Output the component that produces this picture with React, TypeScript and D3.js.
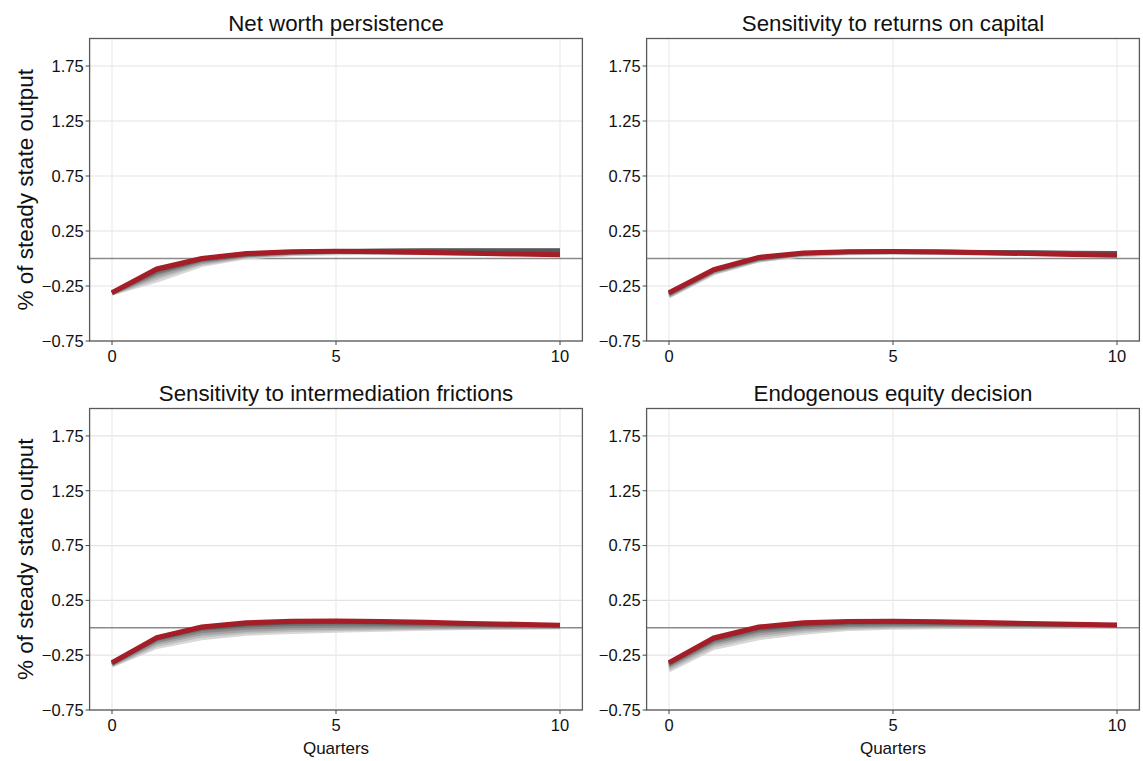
import React from 'react';
import * as d3 from 'd3';

// horizon (quarters)
const quarters = [0, 1, 2, 3, 4, 5, 6, 7, 8, 9, 10];
const yTicks = [-0.75, -0.25, 0.25, 0.75, 1.25, 1.75];
const xTicks = [0, 5, 10];
const titles = [
  'Net worth persistence',
  'Sensitivity to returns on capital',
  'Sensitivity to intermediation frictions',
  'Endogenous equity decision',
];

// gray fan, light -> dark, then the red baseline on top
const netWorthGrays = [
  [-0.32, -0.2, -0.06, 0.01, 0.038, 0.048, 0.05, 0.047, 0.043, 0.04, 0.037],
  [-0.32, -0.175, -0.045, 0.018, 0.044, 0.054, 0.055, 0.053, 0.05, 0.048, 0.046],
  [-0.315, -0.155, -0.035, 0.024, 0.049, 0.058, 0.06, 0.059, 0.057, 0.055, 0.054],
  [-0.315, -0.135, -0.022, 0.03, 0.053, 0.062, 0.065, 0.065, 0.064, 0.063, 0.062],
  [-0.31, -0.12, -0.012, 0.035, 0.056, 0.065, 0.069, 0.07, 0.07, 0.07, 0.07],
  [-0.31, -0.105, -0.005, 0.04, 0.06, 0.068, 0.073, 0.075, 0.076, 0.076, 0.076],
];
const netWorthRed = [-0.31, -0.095, 0.0, 0.045, 0.062, 0.065, 0.062, 0.055, 0.048, 0.04, 0.033];

const returnsGrays = [
  [-0.345, -0.135, -0.02, 0.03, 0.048, 0.052, 0.05, 0.046, 0.041, 0.036, 0.032],
  [-0.34, -0.128, -0.015, 0.035, 0.052, 0.055, 0.053, 0.05, 0.045, 0.04, 0.036],
  [-0.333, -0.12, -0.01, 0.04, 0.055, 0.058, 0.056, 0.053, 0.048, 0.044, 0.04],
  [-0.326, -0.115, -0.005, 0.043, 0.058, 0.06, 0.059, 0.056, 0.052, 0.048, 0.044],
  [-0.32, -0.11, 0.0, 0.046, 0.06, 0.062, 0.061, 0.058, 0.055, 0.051, 0.047],
  [-0.315, -0.105, 0.005, 0.048, 0.062, 0.064, 0.063, 0.06, 0.057, 0.053, 0.05],
];
const returnsRed = [-0.31, -0.1, 0.01, 0.05, 0.062, 0.063, 0.058, 0.052, 0.045, 0.037, 0.03];

const frictionsGrays = [
  [-0.345, -0.175, -0.095, -0.055, -0.038, -0.027, -0.017, -0.009, -0.003, 0.0, 0.003],
  [-0.34, -0.155, -0.073, -0.037, -0.021, -0.013, -0.006, 0.0, 0.003, 0.005, 0.007],
  [-0.335, -0.135, -0.052, -0.02, -0.005, 0.0, 0.005, 0.008, 0.01, 0.01, 0.01],
  [-0.33, -0.118, -0.032, 0.0, 0.015, 0.018, 0.02, 0.02, 0.018, 0.016, 0.014],
  [-0.325, -0.103, -0.012, 0.02, 0.035, 0.038, 0.037, 0.033, 0.028, 0.023, 0.02],
  [-0.32, -0.097, 0.0, 0.035, 0.05, 0.055, 0.05, 0.045, 0.035, 0.028, 0.022],
];
const frictionsRed = [-0.318, -0.09, 0.007, 0.045, 0.06, 0.062, 0.057, 0.05, 0.04, 0.032, 0.023];

const equityGrays = [
  [-0.39, -0.185, -0.095, -0.045, -0.012, 0.0, 0.005, 0.008, 0.01, 0.01, 0.01],
  [-0.372, -0.163, -0.073, -0.028, 0.0, 0.01, 0.013, 0.015, 0.015, 0.014, 0.013],
  [-0.356, -0.143, -0.052, -0.012, 0.012, 0.02, 0.022, 0.022, 0.02, 0.018, 0.016],
  [-0.342, -0.127, -0.032, 0.005, 0.025, 0.03, 0.03, 0.028, 0.025, 0.022, 0.019],
  [-0.33, -0.112, -0.016, 0.02, 0.038, 0.042, 0.04, 0.035, 0.03, 0.026, 0.022],
  [-0.322, -0.1, 0.0, 0.035, 0.05, 0.055, 0.05, 0.044, 0.036, 0.029, 0.024],
];
const equityRed = [-0.318, -0.093, 0.007, 0.045, 0.058, 0.06, 0.055, 0.048, 0.04, 0.032, 0.025];

const grayShades = ['#d8d8d8', '#bfbfbf', '#a5a5a5', '#8a8a8a', '#707070', '#575757'];
const FONT = 'Liberation Sans, Arial, Helvetica, sans-serif';

type PanelProps = {
  title: string;
  grays: number[][];
  red: number[];
  x0: number;
  x1: number;
  y0: number;
  y1: number;
  showYLabel: boolean;
  showXLabel: boolean;
};

const Panel = ({ title, grays, red, x0, x1, y0, y1, showYLabel, showXLabel }: PanelProps) => {
  const x = d3.scaleLinear().domain([-0.5, 10.5]).range([x0, x1]);
  const y = d3.scaleLinear().domain([-0.75, 2.0]).range([y1, y0]);
  const line = d3.line<number>()
    .x((_, i) => x(quarters[i]))
    .y(d => y(d));
  const cx = (x0 + x1) / 2;

  return (
    <g>
      <text x={cx} y={y0 - 8} textAnchor="middle" fontSize={22.3} fill="#111">{title}</text>
      {/* grid */}
      {yTicks.map(t => (
        <line key={'gy' + t} x1={x0} x2={x1} y1={y(t)} y2={y(t)} stroke="#e4e4e4" strokeWidth={1.2} />
      ))}
      {xTicks.map(t => (
        <line key={'gx' + t} x1={x(t)} x2={x(t)} y1={y0} y2={y1} stroke="#ebebeb" strokeWidth={1.2} />
      ))}
      {/* zero line */}
      <line x1={x0} x2={x1} y1={y(0)} y2={y(0)} stroke="#8a8a8a" strokeWidth={1.5} />
      {grays.map((s, i) => (
        <path key={'g' + i} d={line(s) || ''} fill="none" stroke={grayShades[i]} strokeWidth={4} strokeLinejoin="round" />
      ))}
      <path d={line(red) || ''} fill="none" stroke="#a51d27" strokeWidth={5} strokeLinejoin="miter" />
      {/* frame */}
      <rect x={x0} y={y0} width={x1 - x0} height={y1 - y0} fill="none" stroke="#5a5a5a" strokeWidth={1.3} />
      {yTicks.map(t => (
        <g key={'ty' + t}>
          <line x1={x0 - 4} x2={x0} y1={y(t)} y2={y(t)} stroke="#444" strokeWidth={1} />
          <text x={x0 - 6} y={y(t)} dy="0.36em" textAnchor="end" fontSize={16.5} fill="#111">
            {t < 0 ? '\u2212' + Math.abs(t).toFixed(2) : t.toFixed(2)}
          </text>
        </g>
      ))}
      {xTicks.map(t => (
        <g key={'tx' + t}>
          <line x1={x(t)} x2={x(t)} y1={y1} y2={y1 + 4} stroke="#444" strokeWidth={1} />
          <text x={x(t)} y={y1 + 21} textAnchor="middle" fontSize={16.5} fill="#111">{t}</text>
        </g>
      ))}
      {showYLabel && (
        <text transform={`translate(${x0 - 57},${(y0 + y1) / 2}) rotate(-90)`} textAnchor="middle" fontSize={22.5} fill="#111">
          % of steady state output
        </text>
      )}
      {showXLabel && (
        <text x={x(5)} y={y1 + 44} textAnchor="middle" fontSize={17} fill="#111">Quarters</text>
      )}
    </g>
  );
};

export default function App() {
  const panels = [
    { grays: netWorthGrays, red: netWorthRed },
    { grays: returnsGrays, red: returnsRed },
    { grays: frictionsGrays, red: frictionsRed },
    { grays: equityGrays, red: equityRed },
  ];
  const cols = [[89.6, 582.4], [646.6, 1139.4]];
  const rows = [[38.5, 341], [408.5, 710]];
  return (
    <svg width={1143} height={761} style={{ position: 'absolute', left: 0, top: 0, background: '#fff' }} fontFamily={FONT}>
      {panels.map((p, i) => {
        const c = cols[i % 2];
        const r = rows[Math.floor(i / 2)];
        return (
          <Panel
            key={i}
            title={titles[i]}
            grays={p.grays}
            red={p.red}
            x0={c[0]}
            x1={c[1]}
            y0={r[0]}
            y1={r[1]}
            showYLabel={i % 2 === 0}
            showXLabel={i >= 2}
          />
        );
      })}
    </svg>
  );
}
